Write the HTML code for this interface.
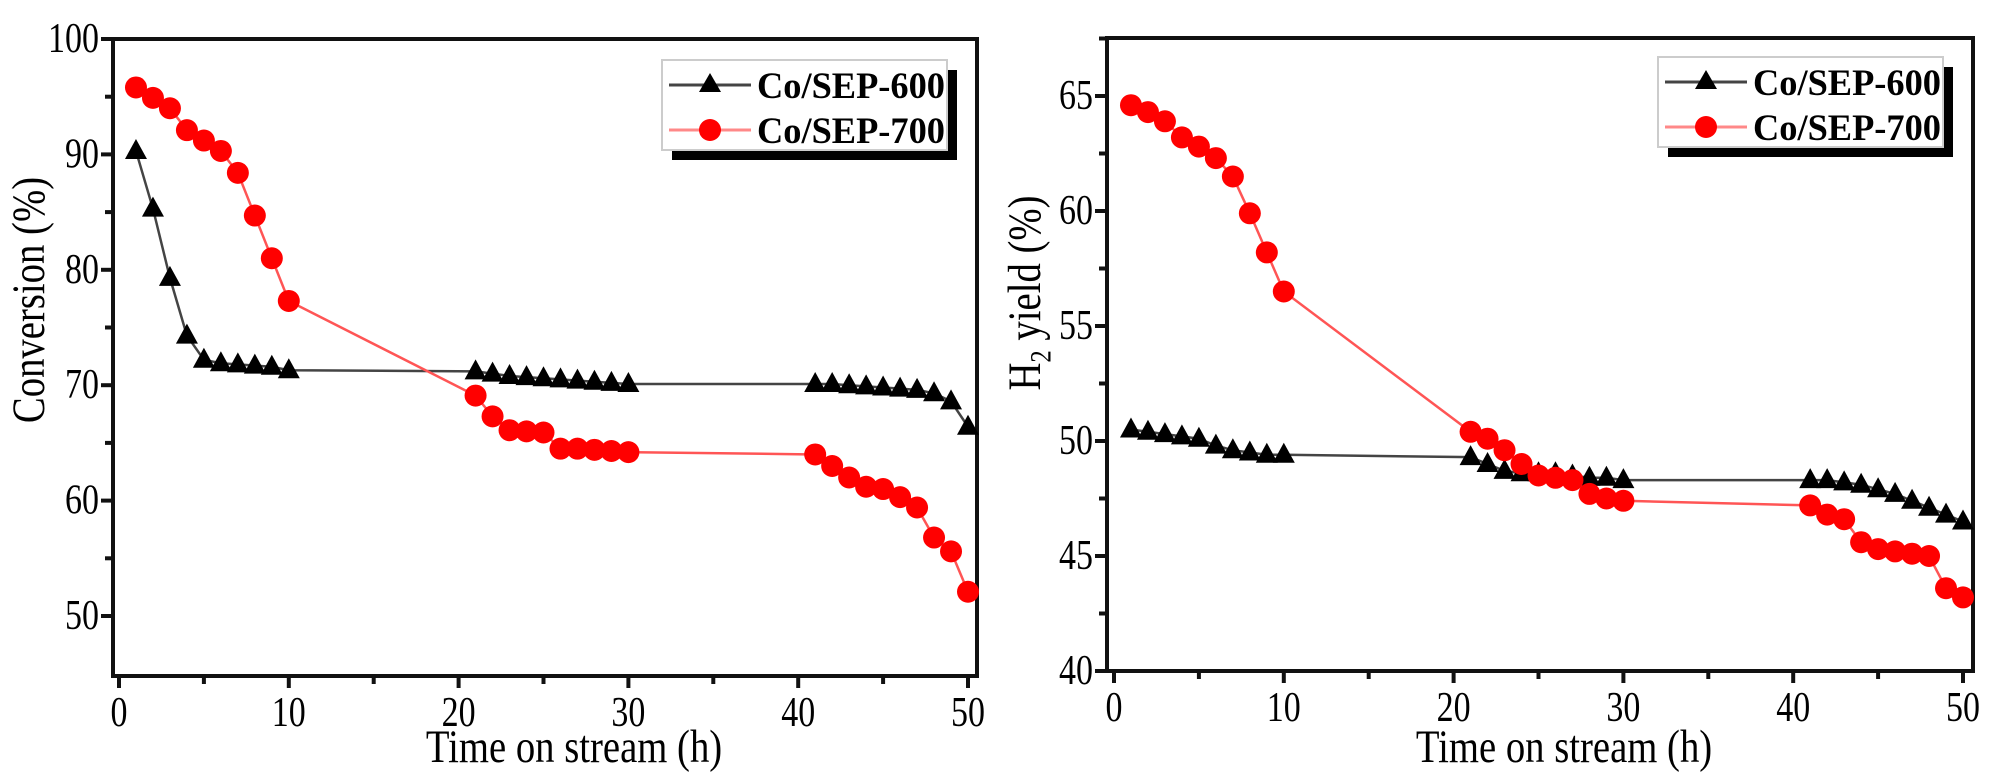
<!DOCTYPE html>
<html><head><meta charset="utf-8">
<style>
html,body{margin:0;padding:0;background:#fff;}
svg{display:block;font-family:"Liberation Serif",serif;}
</style></head>
<body>
<svg id="chart" width="2000" height="780" viewBox="0 0 2000 780" xmlns="http://www.w3.org/2000/svg"></svg>
<script>
const hours = [1,2,3,4,5,6,7,8,9,10,21,22,23,24,25,26,27,28,29,30,41,42,43,44,45,46,47,48,49,50];
const conv600 = [90.3,85.3,79.3,74.3,72.2,71.9,71.8,71.7,71.6,71.3,71.2,71.0,70.8,70.7,70.6,70.5,70.4,70.3,70.2,70.1,70.1,70.1,70.0,69.9,69.8,69.7,69.6,69.3,68.6,66.4];
const conv700 = [95.8,94.9,94.0,92.1,91.2,90.3,88.4,84.7,81.0,77.3,69.1,67.3,66.1,66.0,65.9,64.5,64.5,64.4,64.3,64.2,64.0,63.0,62.0,61.2,61.0,60.3,59.4,56.8,55.6,52.1];
const h2y600 = [50.5,50.4,50.3,50.2,50.1,49.8,49.6,49.5,49.4,49.4,49.3,49.0,48.7,48.6,48.6,48.6,48.5,48.4,48.4,48.3,48.3,48.3,48.2,48.1,47.9,47.7,47.4,47.1,46.8,46.5];
const h2y700 = [64.6,64.3,63.9,63.2,62.8,62.3,61.5,59.9,58.2,56.5,50.4,50.1,49.6,49.0,48.5,48.4,48.3,47.7,47.5,47.4,47.2,46.8,46.6,45.6,45.3,45.2,45.1,45.0,43.6,43.2];
const xTicks = [0,10,20,30,40,50];
const leftYTicks = [50,60,70,80,90,100];
const rightYTicks = [40,45,50,55,60,65];
const seriesNames = ["Co/SEP-600","Co/SEP-700"];

const NS = "http://www.w3.org/2000/svg";
const svg = document.getElementById('chart');
function mk(tag, attrs, parent){
  const e = document.createElementNS(NS, tag);
  for (const k in attrs) e.setAttribute(k, attrs[k]);
  (parent||svg).appendChild(e);
  return e;
}

function panel(cfg){
  const g = mk('g', {});
  
  
  const sx = v => cfg.x0 + (v - 0) * (cfg.x50 - cfg.x0) / 50;
  const sy = v => cfg.yA + (v - cfg.vA) * (cfg.yB - cfg.yA) / (cfg.vB - cfg.vA);
  const L = cfg.left, R = cfg.right, T = cfg.top, B = cfg.bottom;
  const fr = mk('rect', {x:L, y:T, width:R-L, height:B-T, fill:'none', stroke:'#111', 'stroke-width':4}, g);
  
  
  for (let v = 0; v <= 50; v += 5) {
    const major = v % 10 === 0;
    const t = mk('line', {x1:sx(v), x2:sx(v), y1:B, y2:B + (major?12:8), stroke:'#111', 'stroke-width':4}, g);
    
    
  }
  xTicks.forEach(v => {
    const t = mk('text', {x:0, y:0, 'font-size':40, 'text-anchor':'middle', fill:'#000', transform:`translate(${sx(v)},${B+50}) scale(0.85,1.05)`}, g);
    t.textContent = v;
    
    
  });
  const yt = cfg.yTicks;
  const step = (yt[1]-yt[0]) / 2;
  for (let v = cfg.yMinTick; v <= cfg.yMaxTick + 1e-6; v += step) {
    const r = (v - yt[0]) / (yt[1]-yt[0]);
    const major = Math.abs(r - Math.round(r)) < 1e-6;
    const t = mk('line', {x1:L - (major?12:8), x2:L, y1:sy(v), y2:sy(v), stroke:'#111', 'stroke-width':4}, g);
    
    
  }
  yt.forEach(v => {
    const t = mk('text', {x:0, y:0, 'font-size':40, 'text-anchor':'end', fill:'#000', transform:`translate(${L-14},${sy(v)+13}) scale(0.85,1.05)`}, g);
    t.textContent = v;
    
    
  });
  const xt = mk('text', {x:0, y:0, 'font-size':44, 'text-anchor':'middle', fill:'#000', transform:`translate(${cfg.xTitleX},762) scale(0.88,1.05)`}, g);
  xt.textContent = 'Time on stream (h)';
  
  
  const ytl = mk('text', {x:0, y:0, 'font-size':44, 'text-anchor':'middle', fill:'#000', transform:`translate(${cfg.yTitleX},${cfg.yTitleY}) rotate(-90) scale(0.88,1.05)`}, g);
  if (cfg.h2) {
    const a = mk('tspan', {}, ytl); a.textContent = 'H';
    const b = mk('tspan', {'font-size':28, dy:10}, ytl); b.textContent = '2';
    const c = mk('tspan', {dy:-10}, ytl); c.textContent = ' yield (%)';
  } else ytl.textContent = 'Conversion (%)';
  
  
  function series(vals, color, lineColor, marker, nm){
    const sg = mk('g', {}, g);
    
    
    const pts = hours.map((h,i) => sx(h)+','+sy(vals[i])).join(' ');
    mk('polyline', {points:pts, fill:'none', stroke:lineColor, 'stroke-width':2.5}, sg);
    hours.forEach((h,i) => {
      const x = sx(h), y = sy(vals[i]);
      let m;
      if (marker === 'tri') m = mk('polygon', {points:`${x},${y-12} ${x-11},${y+8} ${x+11},${y+8}`, fill:color}, sg);
      else m = mk('circle', {cx:x, cy:y, r:11, fill:color}, sg);
      
      
    });
  }
  series(cfg.s600, '#000', '#444', 'tri', 'series-co-sep-600');
  series(cfg.s700, '#f00', '#f55', 'circ', 'series-co-sep-700');
  const lg = mk('g', {}, g);
  
  
  const lx = cfg.legX, ly = cfg.legY, lw = 285, lh = 90;
  mk('rect', {x:lx+10, y:ly+10, width:lw, height:lh, fill:'#000'}, lg);
  mk('rect', {x:lx, y:ly, width:lw, height:lh, fill:'#fff', stroke:'#ccc', 'stroke-width':2}, lg);
  [[0,'#444','#000','tri'],[1,'#f88','#f00','circ']].forEach(([i,lc,mc,mt]) => {
    const ey = ly + 25 + i*45;
    const eg = mk('g', {}, lg);
    
    
    mk('line', {x1:lx+7, x2:lx+89, y1:ey, y2:ey, stroke:lc, 'stroke-width':3}, eg);
    const mx = lx+48;
    if (mt==='tri') mk('polygon', {points:`${mx},${ey-12} ${mx-11},${ey+7} ${mx+11},${ey+7}`, fill:mc}, eg);
    else mk('circle', {cx:mx, cy:ey, r:11, fill:mc}, eg);
    const t = mk('text', {x:lx+95, y:ey+13, 'font-size':37, 'font-weight':'bold', fill:'#000', textLength:188, lengthAdjust:'spacingAndGlyphs'}, eg);
    t.textContent = seriesNames[i];
  });
}

panel({name:'conversion-chart', left:113, right:977, top:39, bottom:676,
  x0:119, x50:968, vA:100, yA:39, vB:50, yB:616,
  yTicks:leftYTicks, yMinTick:50, yMaxTick:100,
  s600:conv600, s700:conv700, xTitleX:574, yTitleX:44, yTitleY:300, h2:false,
  legX:662, legY:60});
panel({name:'h2-yield-chart', left:1107, right:1973, top:38, bottom:671,
  x0:1114, x50:1963, vA:40, yA:671, vB:50, yB:441,
  yTicks:rightYTicks, yMinTick:40, yMaxTick:67.5,
  s600:h2y600, s700:h2y700, xTitleX:1564, yTitleX:1040, yTitleY:293, h2:true,
  legX:1658, legY:57});
</script>
</body></html>
